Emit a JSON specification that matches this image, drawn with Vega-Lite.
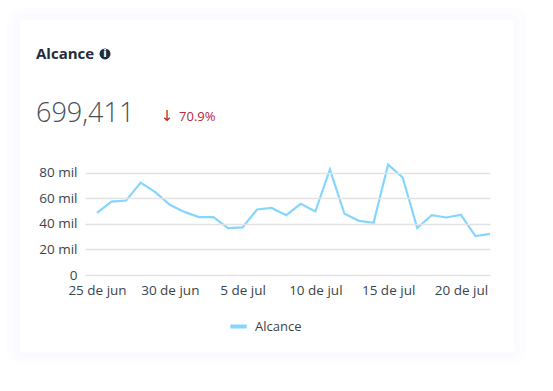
{
"$schema":"https://vega.github.io/schema/vega-lite/v6.json",
"width":405,"height":115,
"autosize":{"type":"none"},
"padding":{"left":85,"top":160,"right":63,"bottom":116},
"background":"#ffffff",
"config":{"font":"Open Sans","view":{"stroke":null}},
"title":{"text":"Alcance","anchor":"start","frame":"group","dx":-49,"offset":-55,"fontSize":15,"fontWeight":700,"font":"Open Sans","color":"#1f2d3a"},
"datasets":{
"series":[
{"date":"2021-06-25T00:00:00Z","value":48600,"series":"Alcance"},{"date":"2021-06-26T00:00:00Z","value":57500,"series":"Alcance"},{"date":"2021-06-27T00:00:00Z","value":58300,"series":"Alcance"},{"date":"2021-06-28T00:00:00Z","value":72300,"series":"Alcance"},{"date":"2021-06-29T00:00:00Z","value":64800,"series":"Alcance"},{"date":"2021-06-30T00:00:00Z","value":54900,"series":"Alcance"},{"date":"2021-07-01T00:00:00Z","value":49400,"series":"Alcance"},{"date":"2021-07-02T00:00:00Z","value":45300,"series":"Alcance"},{"date":"2021-07-03T00:00:00Z","value":45300,"series":"Alcance"},{"date":"2021-07-04T00:00:00Z","value":36700,"series":"Alcance"},{"date":"2021-07-05T00:00:00Z","value":37200,"series":"Alcance"},{"date":"2021-07-06T00:00:00Z","value":51300,"series":"Alcance"},{"date":"2021-07-07T00:00:00Z","value":52500,"series":"Alcance"},{"date":"2021-07-08T00:00:00Z","value":46800,"series":"Alcance"},{"date":"2021-07-09T00:00:00Z","value":55700,"series":"Alcance"},{"date":"2021-07-10T00:00:00Z","value":49700,"series":"Alcance"},{"date":"2021-07-11T00:00:00Z","value":82700,"series":"Alcance"},{"date":"2021-07-12T00:00:00Z","value":47900,"series":"Alcance"},{"date":"2021-07-13T00:00:00Z","value":42400,"series":"Alcance"},{"date":"2021-07-14T00:00:00Z","value":40800,"series":"Alcance"},{"date":"2021-07-15T00:00:00Z","value":86400,"series":"Alcance"},{"date":"2021-07-16T00:00:00Z","value":76300,"series":"Alcance"},{"date":"2021-07-17T00:00:00Z","value":36700,"series":"Alcance"},{"date":"2021-07-18T00:00:00Z","value":46800,"series":"Alcance"},{"date":"2021-07-19T00:00:00Z","value":45000,"series":"Alcance"},{"date":"2021-07-20T00:00:00Z","value":47100,"series":"Alcance"},{"date":"2021-07-21T00:00:00Z","value":30400,"series":"Alcance"},{"date":"2021-07-22T00:00:00Z","value":32200,"series":"Alcance"}
],
"card":[{"date":"2021-06-19T17:02:00Z","date2":"2021-07-23T15:36:00Z","value":199600,"value2":-60300}]
},
"encoding":{
  "x":{"field":"date","type":"temporal","title":null,
   "scale":{"type":"utc","domain":["2021-06-24T04:12:00Z","2021-07-22T00:00:00Z"]},
   "axis":{"zindex":1,"values":["2021-06-25T00:00:00Z","2021-06-30T00:00:00Z","2021-07-05T00:00:00Z","2021-07-10T00:00:00Z","2021-07-15T00:00:00Z","2021-07-20T00:00:00Z"],
    "labelExpr":"utcdate(datum.value)+' de '+(utcmonth(datum.value)==5?'jun':'jul')",
    "grid":false,"domain":false,"ticks":false,"labelFontSize":13.5,"labelColor":"#3a444d","labelPadding":8,"labelFlush":false,"labelOverlap":false}},
  "y":{"field":"value","type":"quantitative","title":null,
   "scale":{"domain":[0,90000],"nice":false},
   "axis":{"zindex":1,"values":[0,20000,40000,60000,80000],
    "labelExpr":"datum.value==0?'0':(datum.value/1000)+' mil'",
    "grid":true,"gridColor":"#e2e2e2","gridWidth":1.3,"domain":false,"ticks":false,"labelFontSize":13.5,"labelColor":"#3a444d","labelPadding":8,"labelOverlap":false}}
},
"layer":[
{"data":{"name":"card"},
 "mark":{"type":"rect","fill":"#ffffff","stroke":"#fdfdff","strokeWidth":26,"cornerRadius":3},
 "encoding":{"x2":{"field":"date2"},"y2":{"field":"value2"}}},
{"data":{"name":"card"},
 "mark":{"type":"rect","fill":"#ffffff","stroke":"#fbfbff","strokeWidth":12,"cornerRadius":3},
 "encoding":{"x2":{"field":"date2"},"y2":{"field":"value2"}}},
{"data":{"name":"card"},
 "mark":{"type":"rect","fill":"#ffffff","cornerRadius":3},
 "encoding":{"x2":{"field":"date2"},"y2":{"field":"value2"}}},
{"data":{"name":"series"},
 "mark":{"type":"line","strokeWidth":2.2,"clip":false},
 "encoding":{
  "color":{"field":"series","type":"nominal","title":null,
   "scale":{"domain":["Alcance"],"range":["#85d6ff"]},
   "legend":{"orient":"none","legendX":143,"legendY":156,"symbolType":"stroke","symbolStrokeWidth":4,"symbolSize":270,"labelFontSize":13,"labelColor":"#3a444d","labelOffset":6}}
 }},
{"data":{"values":[{"date":"2021-06-20T19:26:00Z","value":119700,"label":"699,411"}]},
 "mark":{"type":"text","align":"left","baseline":"alphabetic","fontSize":27,"fontWeight":300,"font":"Open Sans","color":"#46505a"},
 "encoding":{"text":{"field":"label"}}},
{"data":{"values":[{"date":"2021-06-29T19:26:00Z","value":120500,"label":"↓"}]},
 "mark":{"type":"text","align":"center","baseline":"alphabetic","fontSize":15,"font":"DejaVu Sans","color":"#b5283d"},
 "encoding":{"text":{"field":"label"}}},
{"data":{"values":[{"date":"2021-06-30T15:13:00Z","value":120500,"label":"70.9%"}]},
 "mark":{"type":"text","align":"left","baseline":"alphabetic","fontSize":13,"color":"#b5283d"},
 "encoding":{"text":{"field":"label"}}},
{"data":{"values":[{"date":"2021-06-25T13:12:00Z","value":173000}]},
 "mark":{"type":"point","filled":true,"size":120,"opacity":1,"color":"#1f2d3a"}},
{"data":{"values":[{"date":"2021-06-25T13:12:00Z","value":173000,"label":"i"}]},
 "mark":{"type":"text","align":"center","baseline":"middle","fontSize":10,"fontWeight":700,"font":"DejaVu Sans","color":"#ffffff"},
 "encoding":{"text":{"field":"label"}}}
]
}
